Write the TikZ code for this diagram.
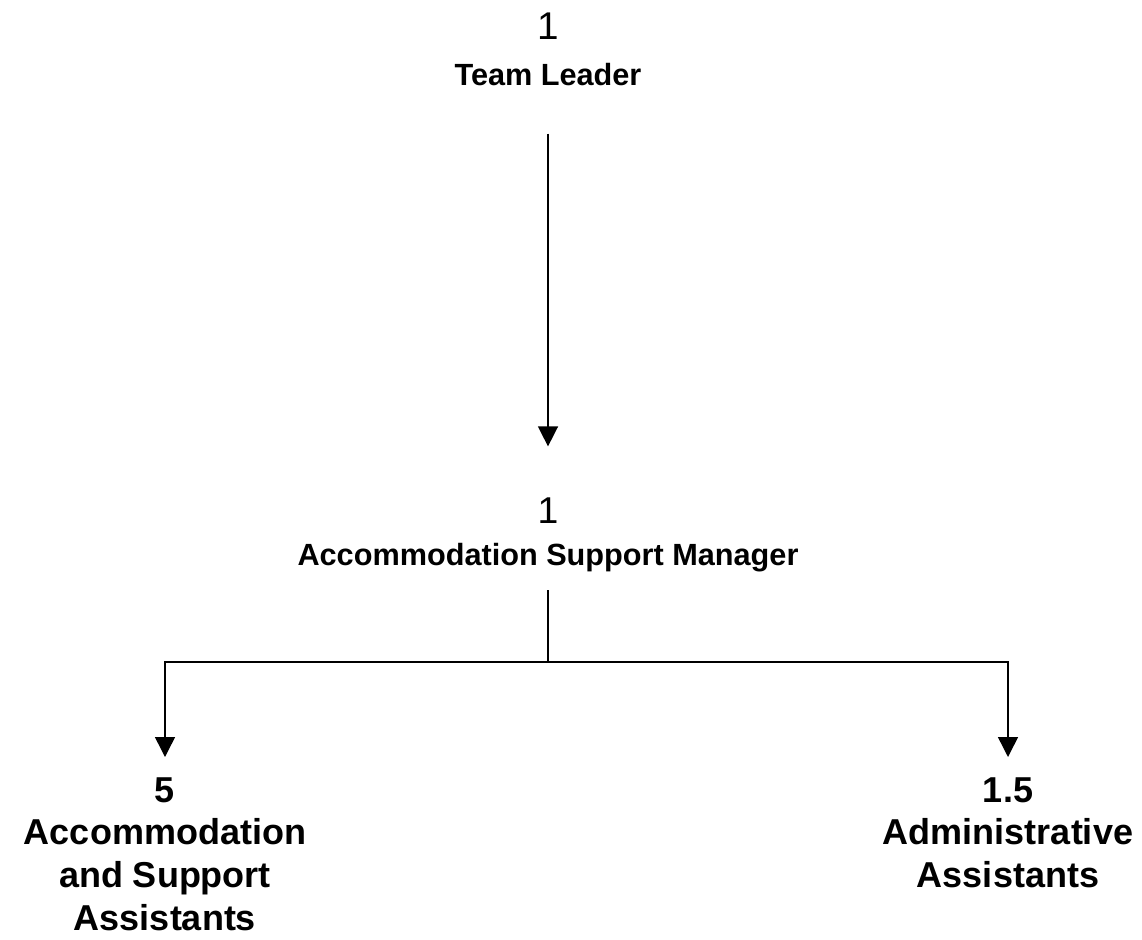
\documentclass[tikz,border=0pt]{standalone}
\usepackage{fontspec}
\setmainfont{Liberation Sans}
\usetikzlibrary{arrows.meta}

\begin{document}
\begin{tikzpicture}[x=0.75pt, y=-0.75pt,
    num/.style={anchor=base, inner sep=0pt},
    title/.style={anchor=base, inner sep=0pt, font=\bfseries\fontsize{23}{27}\selectfont},
    staff/.style={anchor=north, inner sep=0pt, align=center, font=\bfseries\fontsize{27}{32}\selectfont},
    link/.style={line width=1.1pt},
    arr/.style={link, -{Triangle[width=15pt, length=15pt]}}]
    \useasboundingbox (0,0) rectangle (1142,939);
    % top of the chart
    \node[num, font=\fontsize{29}{34}\selectfont] (n1) at (548,39) {1};
    \node[title] (lead) at (548,85) {Team Leader};
    \node[num, font=\fontsize{28}{33}\selectfont] (n2) at (548,523) {1};
    \node[title] (mgr) at (548,565) {Accommodation Support Manager};
    % the two teams
    \node[staff] (acc) at (165,777) {5\\Accommodation\\and Support\\Assistants};
    \node[staff] (adm) at (1008,777) {1.5\\Administrative\\Assistants};
    \coordinate (split) at (548,662);
    \draw[arr, shorten <=36pt, shorten >=38pt] (lead.south) -- (n2.north);
    \draw[link, shorten <=14pt] (mgr.south) -- (split);
    \draw[arr, shorten >=15pt] (split) -| (acc.north);
    \draw[arr, shorten >=15pt] (split) -| (adm.north);
\end{tikzpicture}
\end{document}
